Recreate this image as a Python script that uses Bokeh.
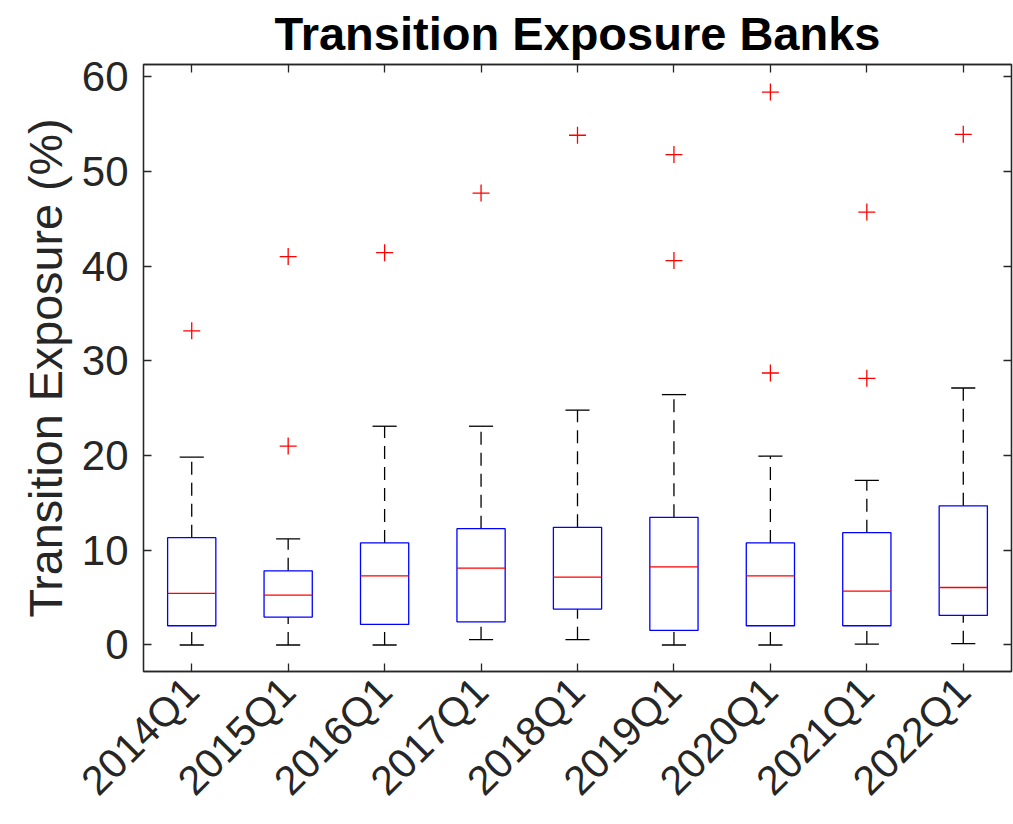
import math
from bokeh.plotting import figure
from bokeh.models import Range1d, FixedTicker, LinearAxis, ColumnDataSource
from bokeh.embed import file_html
from bokeh.resources import INLINE

# ---------------- data ----------------
categories = ["2014Q1", "2015Q1", "2016Q1", "2017Q1", "2018Q1",
              "2019Q1", "2020Q1", "2021Q1", "2022Q1"]
whisker_low = [0.0, 0.0, 0.0, 0.56, 0.56, 0.0, 0.0, 0.10, 0.14]
q1 = [2.03, 2.95, 2.17, 2.45, 3.79, 1.54, 2.03, 2.03, 3.12]
median = [5.44, 5.27, 7.30, 8.11, 7.16, 8.25, 7.30, 5.69, 6.07]
q3 = [11.33, 7.83, 10.78, 12.28, 12.43, 13.48, 10.78, 11.86, 14.70]
whisker_high = [19.84, 11.20, 23.10, 23.10, 24.80, 26.44, 19.94, 17.38, 27.14]

outlier_cat = ["2014Q1", "2015Q1", "2015Q1", "2016Q1", "2017Q1", "2018Q1",
               "2019Q1", "2019Q1", "2020Q1", "2020Q1", "2021Q1", "2021Q1",
               "2022Q1"]
outlier_val = [33.18, 41.02, 21.00, 41.43, 47.72, 53.83,
               51.79, 40.59, 58.39, 28.72, 45.72, 28.16, 53.93]

y_ticks = [0, 10, 20, 30, 40, 50, 60]

# ---------------- styling ----------------
FONT = "Liberation Sans"
AX = "#262626"
BOX_W = 0.5
CAP_W = 0.25

pos = list(range(1, len(categories) + 1))
cat_pos = {c: i for c, i in zip(categories, pos)}

src = ColumnDataSource(dict(
    x=pos,
    lo=whisker_low, q1=q1, med=median, q3=q3, hi=whisker_high,
    bl=[x - BOX_W / 2 for x in pos], br=[x + BOX_W / 2 for x in pos],
    cl=[x - CAP_W / 2 for x in pos], cr=[x + CAP_W / 2 for x in pos],
))
out_src = ColumnDataSource(dict(x=[cat_pos[c] for c in outlier_cat], y=outlier_val))

p = figure(width=1013, height=824, output_backend="svg", toolbar_location=None,
           x_range=Range1d(0.5, 9.5), y_range=Range1d(-2.8, 61.3),
           min_border_left=143, min_border_right=2, min_border_top=62,
           min_border_bottom=153)

p.title.text = "Transition Exposure Banks"
p.title.align = "center"
p.title.text_font = FONT
p.title.text_font_size = "47px"
p.title.text_font_style = "bold"
p.title.text_color = "black"
p.title.standoff = 9

p.xgrid.visible = False
p.ygrid.visible = False
p.outline_line_color = AX
p.outline_line_width = 1.3
p.background_fill_color = "white"
p.border_fill_color = "white"

# whiskers (dashed)
p.segment(x0="x", x1="x", y0="q3", y1="hi", source=src, line_color="black",
          line_width=1.3, line_dash="13 8")
p.segment(x0="x", x1="x", y0="lo", y1="q1", source=src, line_color="black",
          line_width=1.3, line_dash="13 8")
# caps
p.segment(x0="cl", x1="cr", y0="hi", y1="hi", source=src, line_color="black", line_width=1.3)
p.segment(x0="cl", x1="cr", y0="lo", y1="lo", source=src, line_color="black", line_width=1.3)
# boxes
p.vbar(x="x", width=BOX_W, bottom="q1", top="q3", source=src,
       fill_color=None, line_color="#0000ff", line_width=1.3)
# medians
p.segment(x0="bl", x1="br", y0="med", y1="med", source=src, line_color="#ff0000", line_width=1.3)
# outliers
p.scatter(x="x", y="y", source=out_src, marker="cross", size=17,
          line_color="#ff0000", line_width=1.3)

def style_axis(ax, size="42px"):
    ax.axis_line_color = AX
    ax.axis_line_width = 1.3
    ax.major_tick_line_color = AX
    ax.major_tick_line_width = 1.3
    ax.major_tick_in = 8
    ax.major_tick_out = 0
    ax.minor_tick_line_color = None
    ax.major_label_text_font = FONT
    ax.major_label_text_color = AX
    ax.major_label_text_font_size = size

p.xaxis.ticker = FixedTicker(ticks=pos)
p.xaxis.major_label_overrides = {i: c for c, i in cat_pos.items()}
p.xaxis.major_label_orientation = math.pi / 4
style_axis(p.xaxis[0], "41px")
p.xaxis.major_label_text_baseline = "top"
p.xaxis.major_label_standoff = 13

p.yaxis.ticker = FixedTicker(ticks=y_ticks)
style_axis(p.yaxis[0])
p.yaxis.major_label_standoff = 15
p.yaxis.axis_label = "Transition Exposure (%)"
p.yaxis.axis_label_text_font = FONT
p.yaxis.axis_label_text_font_size = "46.7px"
p.yaxis.axis_label_text_font_style = "normal"
p.yaxis.axis_label_text_color = AX
p.yaxis.axis_label_standoff = 7

# box-style frame: ticks on top and right without labels
top_ax = LinearAxis(ticker=FixedTicker(ticks=pos))
style_axis(top_ax)
top_ax.major_label_overrides = {i: "" for i in pos}
top_ax.major_label_standoff = 0
p.add_layout(top_ax, "above")
right_ax = LinearAxis(ticker=FixedTicker(ticks=y_ticks))
style_axis(right_ax)
right_ax.major_label_overrides = {t: "" for t in y_ticks}
right_ax.major_label_standoff = 0
p.add_layout(right_ax, "right")

open("out.html", "w").write(file_html(p, INLINE))
